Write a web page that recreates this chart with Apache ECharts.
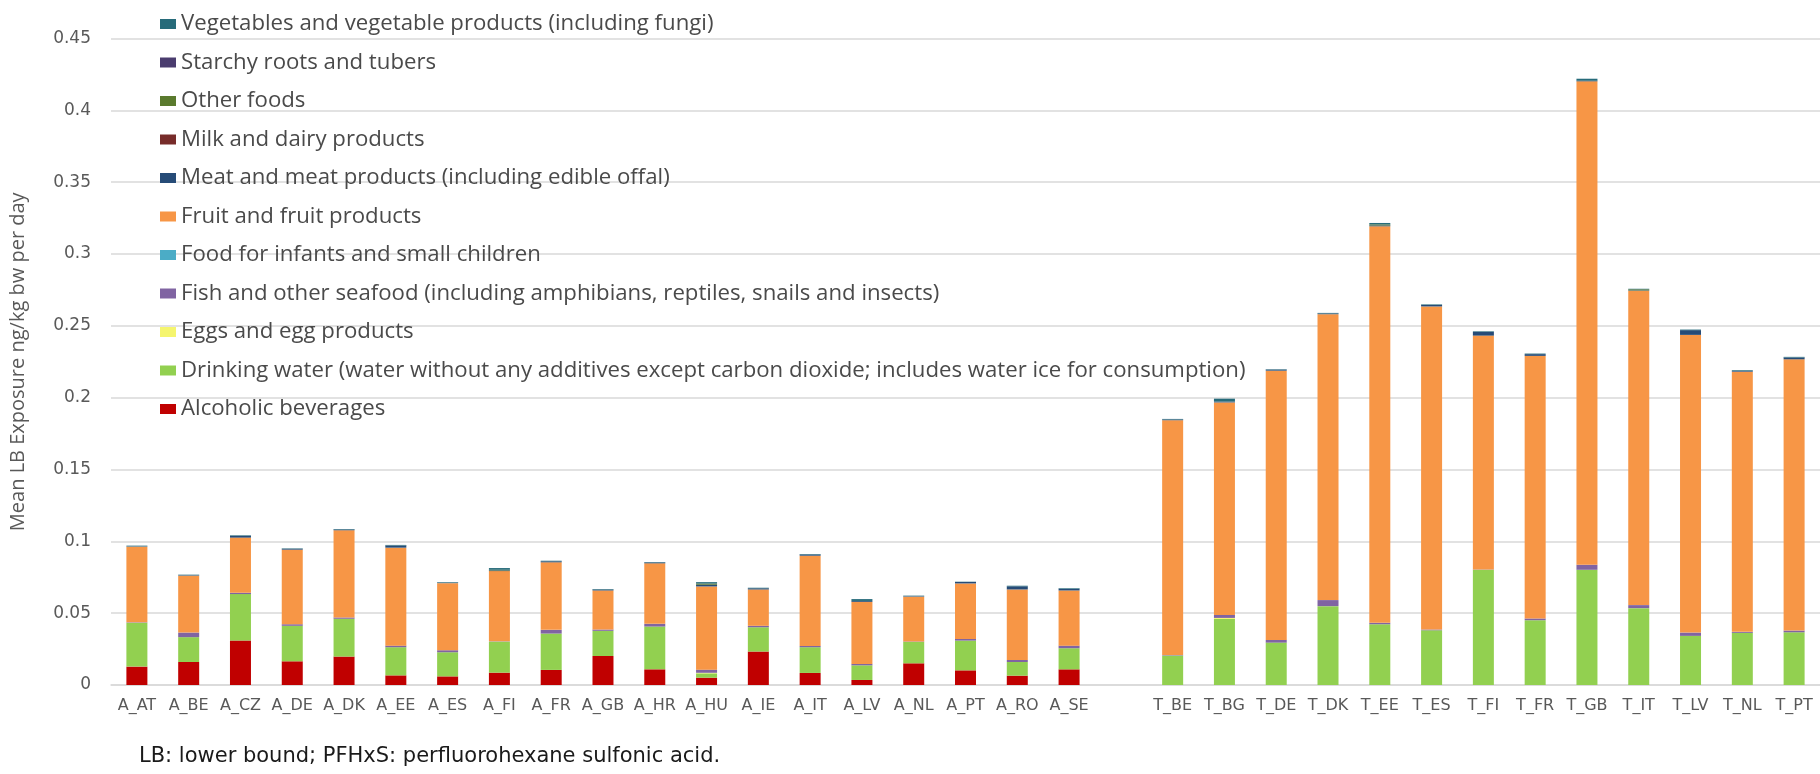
<!DOCTYPE html>
<html lang="en">
<head>
    <meta charset="UTF-8">
    <title>Mean LB exposure by food category</title>
    <script type="text/javascript" src="https://cdn.jsdelivr.net/npm/echarts@6/dist/echarts.min.js"></script>
    <style>
        html, body { margin: 0; padding: 0; background: #fff; }
    </style>
</head>
<body>
<div id="chart" style="width:1820px;height:774px;"></div>
<script type="text/javascript">
    // categories (the empty one is the gap between the A_ and T_ groups)
    var cats = ['A_AT', 'A_BE', 'A_CZ', 'A_DE', 'A_DK', 'A_EE', 'A_ES', 'A_FI', 'A_FR', 'A_GB',
        'A_HR', 'A_HU', 'A_IE', 'A_IT', 'A_LV', 'A_NL', 'A_PT', 'A_RO', 'A_SE', '',
        'T_BE', 'T_BG', 'T_DE', 'T_DK', 'T_EE', 'T_ES', 'T_FI', 'T_FR', 'T_GB', 'T_IT',
        'T_LV', 'T_NL', 'T_PT'];

    // values, bottom of the stack first
    var alcoholic = [0.0128, 0.016, 0.0309, 0.0165, 0.0198, 0.0067, 0.006, 0.0086, 0.0105, 0.0202,
        0.0109, 0.0051, 0.0233, 0.0084, 0.0035, 0.0151, 0.0102, 0.0065, 0.0109, null,
        0, 0, 0, 0, 0, 0, 0, 0, 0, 0, 0, 0, 0];
    var water = [0.0305, 0.0173, 0.0324, 0.0247, 0.0263, 0.0196, 0.0168, 0.0216, 0.0253, 0.0175,
        0.0298, 0.003, 0.0169, 0.0179, 0.0102, 0.0149, 0.0207, 0.0095, 0.0147, null,
        0.0205, 0.046, 0.0295, 0.0549, 0.0423, 0.0381, 0.0802, 0.0451, 0.0802, 0.0535,
        0.0342, 0.0363, 0.0367];
    var eggs = [0, 0, 0, 0, 0, 0, 0, 0, 0, 0,
        0, 0.0004, 0, 0, 0, 0, 0, 0, 0, null,
        0, 0.0007, 0, 0, 0, 0, 0, 0, 0, 0, 0, 0, 0];
    var fish = [0.0003, 0.0032, 0.0009, 0.0011, 0.0009, 0.0011, 0.0014, 0.0002, 0.0026, 0.0009,
        0.0019, 0.0022, 0.001, 0.0009, 0.001, 0.0003, 0.0012, 0.0014, 0.0018, null,
        0.0003, 0.0021, 0.0019, 0.0042, 0.001, 0.0005, 0.0002, 0.0012, 0.0035, 0.0021,
        0.0023, 0.0007, 0.0012];
    var infants = [0, 0, 0, 0, 0, 0, 0, 0, 0, 0,
        0, 0, 0, 0, 0, 0, 0, 0, 0, null,
        0, 0, 0, 0, 0, 0, 0, 0, 0, 0, 0, 0, 0];
    var fruit = [0.0527, 0.0396, 0.0384, 0.0519, 0.0607, 0.0682, 0.0467, 0.0489, 0.047, 0.0272,
        0.0421, 0.0579, 0.0253, 0.0628, 0.0432, 0.0312, 0.0386, 0.0491, 0.0384, null,
        0.1635, 0.1479, 0.1874, 0.199, 0.276, 0.2249, 0.1628, 0.1828, 0.3365, 0.2188,
        0.2072, 0.1811, 0.1888];
    var meat = [0.0002, 0.0003, 0.0012, 0.0006, 0.0005, 0.0015, 0.0003, 0.0005, 0.0007, 0.0006,
        0.0006, 0.0012, 0.0008, 0.0008, 0.0006, 0.0003, 0.001, 0.0022, 0.0012, null,
        0.0005, 0.0006, 0.0007, 0.0005, 0.0006, 0.001, 0.0026, 0.0012, 0.0004, 0.0003,
        0.0033, 0.0005, 0.0013];
    var milk = [0, 0, 0, 0, 0, 0, 0, 0, 0, 0,
        0, 0, 0, 0, 0, 0, 0, 0, 0, null,
        0, 0, 0, 0, 0, 0, 0, 0, 0, 0, 0, 0, 0];
    var other = [0, 0, 0, 0, 0, 0, 0, 0.0004, 0, 0,
        0, 0.0008, 0, 0, 0, 0, 0, 0, 0, null,
        0, 0, 0, 0, 0.0007, 0, 0, 0, 0, 0.0007, 0, 0, 0];
    var starchy = [0, 0, 0, 0, 0, 0, 0, 0, 0, 0,
        0, 0, 0, 0, 0, 0, 0, 0, 0, null,
        0, 0, 0, 0, 0, 0, 0, 0, 0, 0, 0, 0, 0];
    var vegetables = [0.0005, 0.0004, 0.0004, 0.0003, 0.0004, 0.0004, 0.0004, 0.0012, 0.0004, 0.0004,
        0.0003, 0.001, 0.0004, 0.0004, 0.0013, 0.0004, 0.0002, 0.0004, 0.0004, null,
        0.0004, 0.002, 0.0003, 0.0004, 0.001, 0.0004, 0.0004, 0.0004, 0.0014, 0.0004,
        0.0004, 0.0005, 0.0004];

    var names = ['Alcoholic beverages',
        'Drinking water (water without any additives except carbon dioxide; includes water ice for consumption)',
        'Eggs and egg products',
        'Fish and other seafood (including amphibians, reptiles, snails and insects)',
        'Food for infants and small children',
        'Fruit and fruit products',
        'Meat and meat products (including edible offal)',
        'Milk and dairy products',
        'Other foods',
        'Starchy roots and tubers',
        'Vegetables and vegetable products (including fungi)'];
    var colors = ['#c00000', '#92d050', '#f5f56e', '#8064a2', '#4bacc6', '#f79646',
        '#264b77', '#772c2a', '#5a7a2e', '#4a3c6e', '#276b7a'];
    var values = [alcoholic, water, eggs, fish, infants, fruit, meat, milk, other, starchy, vegetables];

    var myChart = echarts.init(document.getElementById('chart'));

    var series = [];
    for (var i = 0; i < names.length; i++) {
        series.push({
            name: names[i],
            type: 'bar',
            stack: 'total',
            barWidth: 21,
            itemStyle: {color: colors[i]},
            data: values[i]
        });
    }

    var option = {
        animation: false,
        color: colors,
        grid: {
            left: 109,
            top: 38.5,
            bottom: 89,
            width: 1714
        },
        legend: {
            orient: 'vertical',
            left: 155,
            top: 8,
            itemWidth: 16,
            itemHeight: 10,
            itemGap: 16.5,
            icon: 'rect',
            data: names.slice().reverse(),
            textStyle: {
                fontFamily: 'Open Sans',
                fontSize: 22.2,
                lineHeight: 22,
                color: '#4a4a4a'
            }
        },
        xAxis: {
            type: 'category',
            data: cats,
            axisTick: {show: false},
            axisLine: {lineStyle: {color: '#d9d9d9', width: 1.5}},
            axisLabel: {
                interval: 0,
                margin: 13,
                fontFamily: 'DejaVu Sans',
                fontSize: 16,
                color: '#595959'
            }
        },
        yAxis: {
            type: 'value',
            min: 0,
            max: 0.45,
            interval: 0.05,
            name: 'Mean LB Exposure ng/kg bw per day',
            nameLocation: 'middle',
            nameGap: 83,
            nameTextStyle: {
                fontFamily: 'Open Sans',
                fontSize: 20,
                color: '#595959'
            },
            axisLine: {show: false},
            axisTick: {show: false},
            splitLine: {lineStyle: {color: '#d9d9d9', width: 1.5}},
            axisLabel: {
                margin: 20,
                fontFamily: 'DejaVu Sans',
                fontSize: 17,
                color: '#595959',
                formatter: function (v) {
                    return v === 0 ? '0' : String(+v.toFixed(2));
                }
            }
        },
        graphic: [{
            type: 'text',
            left: 139,
            top: 746,
            style: {
                text: 'LB: lower bound; PFHxS: perfluorohexane sulfonic acid.',
                fontFamily: 'DejaVu Sans',
                fontSize: 21,
                fill: '#1a1a1a'
            }
        }],
        series: series
    };
    myChart.setOption(option);
</script>
</body>
</html>
